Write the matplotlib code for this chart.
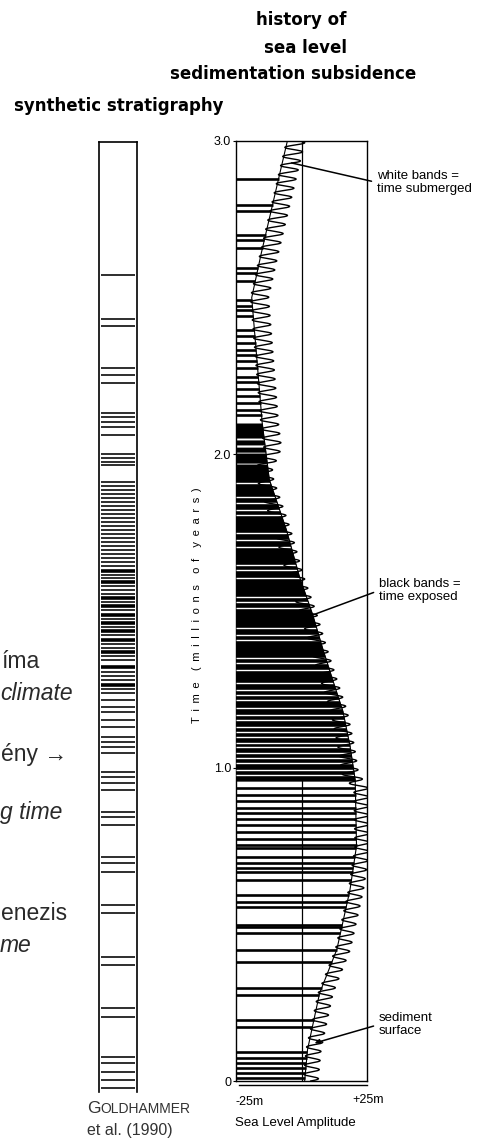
import matplotlib
matplotlib.use("Agg")
import matplotlib.pyplot as plt
import numpy as np

W, H = 482, 1148

# sediment surface through time (Ma) on the sea-level amplitude axis (m)
surf_t = [0.0, 0.10, 0.28, 0.42, 0.61, 0.75, 0.96, 1.07, 1.18, 1.28, 1.38,
          1.49, 1.61, 1.76, 1.92, 2.10, 2.30, 2.50, 2.64, 3.0]
surf_m = [1.2, 2.3, 6.9, 13.5, 18.5, 21.0, 20.5, 18.5, 15.8, 11.9, 8.1,
          4.2, -0.8, -5.8, -12.3, -15.0, -17.0, -19.0, -15.4, -5.4]

# sea-level wiggle relative to the surface: centre offset and half amplitude (m)
wig_t = [0.0, 0.93, 0.98, 1.95, 2.02, 3.0]
wig_off = [2.3, 2.3, -1.5, -1.5, 2.8, 3.2]
wig_amp = [2.9, 2.9, 3.2, 3.2, 3.4, 3.6]
cycle_ma = 0.029

# exposure surfaces (black lines), long exposed intervals, flooding slits (Ma)
expo_lines = [2.879, 2.796, 2.777, 2.700, 2.684, 2.659, 2.595, 2.579, 2.553,
              2.493, 2.473, 2.461, 2.442, 2.397, 2.378, 2.355, 2.333, 2.317,
              2.298, 2.276, 2.247, 2.231, 2.209, 2.186, 2.164, 2.142, 2.126,
              0.935, 0.913, 0.894, 0.871, 0.855, 0.836, 0.817, 0.795, 0.772,
              0.753, 0.744, 0.715, 0.696, 0.680, 0.667, 0.642, 0.594, 0.571,
              0.555, 0.498, 0.492, 0.472, 0.418, 0.380, 0.297, 0.274, 0.195,
              0.172, 0.093, 0.073, 0.057, 0.041, 0.026, 0.010]
span_lo = [2.052, 2.030, 2.007, 1.972, 0.957]
span_hi = [2.100, 2.046, 2.023, 2.004, 1.969]
flood_slits = [1.909, 1.864, 1.845, 1.822, 1.806, 1.749, 1.727, 1.704, 1.647,
               1.631, 1.605, 1.545, 1.529, 1.510, 1.446, 1.423, 1.407, 1.350,
               1.334, 1.312, 1.270, 1.248, 1.232, 1.216, 1.190, 1.168, 1.152,
               1.130, 1.114, 1.098, 1.079, 1.066, 1.047, 1.031, 1.015, 0.993,
               0.977]

# synthetic stratigraphy: bed boundaries, height above base (m)
bed_thin = [81.7, 77.3, 76.6, 72.4, 71.7, 70.9, 67.9, 67.5, 67.0, 66.5, 65.7,
            63.8, 63.4, 63.0, 62.7, 61.0, 60.6, 60.2, 59.8, 59.4, 59.0, 58.6,
            58.2, 57.8, 57.4, 57.0, 56.6, 56.2, 55.8, 55.4, 55.0, 54.6, 54.2,
            53.8, 53.4, 53.0, 52.6, 51.7, 51.4, 50.6, 50.2, 49.8, 49.0, 48.2,
            47.3, 46.5, 45.7, 44.8, 44.4, 43.6, 43.2, 42.0, 41.6, 41.2, 40.3,
            39.9, 39.2, 38.5, 38.0, 37.2, 36.5, 35.5, 35.0, 34.5, 33.9, 32.0,
            31.5, 30.9, 30.2, 28.0, 27.5, 26.7, 23.5, 22.9, 22.0, 18.7, 17.9,
            13.5, 12.7, 8.4, 7.5, 3.5, 2.9, 2.0, 1.2, 0.4]
bed_thick = [52.1, 51.0, 49.4, 48.6, 47.7, 46.9, 46.1, 45.2, 44.0, 42.5, 40.7]
col_top = 95.0

fig = plt.figure(figsize=(W / 100, H / 100), dpi=100)


def ftext(x, y, s, **kw):
    return fig.text(x / W, 1 - y / H, s, **kw)


sans = ['Liberation Sans', 'DejaVu Sans']

# ---------------- right panel
ax = fig.add_axes([236 / W, 1 - 1081 / H, (367 - 236) / W, (1081 - 141) / H])
ax.set_xlim(-25, 25)
ax.set_ylim(0, 3)
ax.axvline(0, color='k', lw=0.9, zorder=0.5)

for lo, hi in zip(span_lo, span_hi):
    ts = np.array([lo] + [t for t in surf_t if lo < t < hi] + [hi])
    ax.fill_betweenx(ts, -25, np.interp(ts, surf_t, surf_m), color='k', lw=0, zorder=2)

ax.hlines(expo_lines, -25, np.interp(expo_lines, surf_t, surf_m), color='k', lw=1.9, zorder=2)
ax.hlines(flood_slits, -25, np.interp(flood_slits, surf_t, surf_m), color='white', lw=1.0, zorder=3)

tt = np.linspace(0, 3, 4000)
sea = (np.interp(tt, surf_t, surf_m) + np.interp(tt, wig_t, wig_off)
       + np.interp(tt, wig_t, wig_amp) * np.sin(2 * np.pi * tt / cycle_ma))
ax.plot(sea, tt, color='k', lw=1.0, zorder=4)
ax.plot(surf_m, surf_t, color='k', lw=0.8, zorder=4)
ax.plot([-24, 25], [-0.013, -0.013], color='k', lw=1.0, clip_on=False)

for s in ax.spines.values():
    s.set_linewidth(1.0)
ax.set_xticks([])
ax.set_yticks([0, 1, 2, 3], ['0', '1.0', '2.0', '3.0'], fontsize=9, family=sans)
ax.tick_params(axis='y', length=2, width=0.8, pad=1.5)

ann_kw = dict(textcoords='figure pixels', ha='left', va='center', fontsize=9.5,
              family=sans, linespacing=1.1, annotation_clip=False)
ax.annotate("white bands =\ntime submerged", xy=(-3.8, 2.93), xytext=(377, H - 182.5),
            arrowprops=dict(arrowstyle='-', lw=1.1, color='k', relpos=(0, 0.5),
                            shrinkA=2, shrinkB=0), **ann_kw)
ax.annotate("black bands =\ntime exposed", xy=(4.2, 1.487), xytext=(379, H - 590.5),
            arrowprops=dict(arrowstyle='-', lw=1.1, color='k', relpos=(0, 0.5),
                            shrinkA=2, shrinkB=0), **ann_kw)
ax.annotate("sediment\nsurface", xy=(5.0, 0.121), xytext=(379, H - 1024.5),
            arrowprops=dict(arrowstyle='-|>', lw=1.1, color='k', relpos=(0, 0.5),
                            mutation_scale=7, shrinkA=2, shrinkB=0), **ann_kw)

ftext(235, 1102, "-25m", ha='left', va='center', fontsize=9, family=sans)
ftext(352, 1100, "+25m", ha='left', va='center', fontsize=9, family=sans)
ftext(235, 1123, "Sea Level Amplitude", ha='left', va='center', fontsize=9.5, family=sans)

sep = '\u2002'
gap = sep * 2
ylab = sep.join("Time") + gap + sep.join("(millions") + gap + sep.join("of") + gap + sep.join("years)")
ftext(197, 605, ylab, rotation=90, ha='center', va='center', fontsize=8, family=sans)

# ---------------- left column
axl = fig.add_axes([99 / W, 1 - 1092 / H, (137 - 99) / W, (1092 - 142) / H])
axl.set_xlim(0, 1)
axl.set_ylim(0, col_top)
axl.hlines(bed_thin, 0.06, 0.96, color='k', lw=1.15)
axl.hlines(bed_thick, 0.06, 0.96, color='k', lw=2.6)
axl.set_xticks([])
axl.set_yticks([])
axl.spines['bottom'].set_visible(False)
for side in ['left', 'right', 'top']:
    axl.spines[side].set_linewidth(1.2)

# ---------------- headings
hb = dict(ha='center', va='center', fontsize=12, fontweight='bold', family='DejaVu Sans')
ftext(301, 20, "history of", **hb)
ftext(305, 48, "sea level", **hb)
ftext(293, 74, "sedimentation subsidence", **hb)
ftext(223, 106, "synthetic stratigraphy", ha='right', va='center', fontsize=12,
      fontweight='bold', family='DejaVu Sans')

g = ftext(87, 1113, "G", ha='left', va='baseline', fontsize=12.5, family=sans, color='#333333')
ax.annotate("OLDHAMMER", xy=(1, 0), xycoords=g, ha='left', va='bottom', fontsize=10,
            family=sans, color='#333333', annotation_clip=False)
ftext(87, 1130, "et al. (1990)", ha='left', va='center', fontsize=11.5, family=sans, color='#333333')

# slide text visible at the left edge
st = dict(ha='left', va='center', fontsize=16.5, family=sans, color='#2a2a2a')
ftext(1, 662, "íma", **st)
ftext(0, 693, "climate", style='italic', **st)
ftext(1, 755, "ény →", **st)
ftext(0, 812, "g time", style='italic', **st)
ftext(1, 913, "enezis", **st)
ftext(0, 945, "me", style='italic', **st)

fig.savefig("out.png", dpi=100)
